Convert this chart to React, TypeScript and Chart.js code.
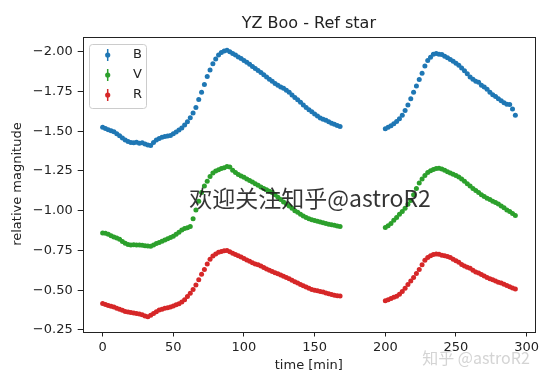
import React, { useEffect, useRef } from "react";
import { Chart, registerables } from "chart.js";

Chart.register(...registerables);

const TITLE = "YZ Boo - Ref star";
const X_LABEL = "time [min]";
const Y_LABEL = "relative magnitude";
const X_TICKS = [0, 50, 100, 150, 200, 250, 300];
const Y_TICKS = [-2.0, -1.75, -1.5, -1.25, -1.0, -0.75, -0.5, -0.25];
const SERIES_NAMES = ["B", "V", "R"];
const COLORS = ["#1f77b4", "#2ca02c", "#d62728"];
const WATERMARK_MAIN = "欢迎关注知乎@astroR2";
const WATERMARK_CORNER = "知乎 @astroR2";

const TIME = [
  0, 2, 4, 6, 8, 10, 12, 14, 16, 18, 20, 22, 24, 26, 28, 30, 32, 34, 36, 38,
  40, 42, 44, 46, 48, 50, 52, 54, 56, 58, 60, 62, 64, 66, 68, 70, 72, 74, 76, 78,
  80, 82, 84, 86, 88, 90, 92, 94, 96, 98, 100, 102, 104, 106, 108, 110, 112, 114, 116, 118,
  120, 122, 124, 126, 128, 130, 132, 134, 136, 138, 140, 142, 144, 146, 148, 150, 152, 154, 156, 158,
  160, 162, 164, 166, 168,
  200, 202, 204, 206, 208, 210, 212, 214, 216, 218, 220, 222, 224, 226, 228, 230, 232, 234, 236, 238,
  240, 242, 244, 246, 248, 250, 252, 254, 256, 258, 260, 262, 264, 266, 268, 270, 272, 274, 276, 278,
  280, 282, 284, 286, 288, 290, 292,
];

const B_MAG = [
  -1.525, -1.517, -1.51, -1.503, -1.497, -1.485, -1.472, -1.458, -1.445, -1.436, -1.43, -1.428, -1.431, -1.425, -1.427, -1.42, -1.414, -1.41, -1.43, -1.445,
  -1.455, -1.462, -1.467, -1.47, -1.474, -1.485, -1.495, -1.508, -1.52, -1.54, -1.56, -1.585, -1.615, -1.65, -1.7, -1.745, -1.795, -1.845, -1.885, -1.925,
  -1.955, -1.98, -1.995, -2.005, -2.01, -2.0, -1.99, -1.98, -1.968, -1.958, -1.946, -1.934, -1.922, -1.908, -1.895, -1.882, -1.87, -1.856, -1.842, -1.828,
  -1.814, -1.8, -1.79, -1.778, -1.77, -1.758, -1.745, -1.728, -1.712, -1.698, -1.682, -1.666, -1.65, -1.636, -1.622, -1.608, -1.596, -1.584, -1.575, -1.57,
  -1.56, -1.55, -1.544, -1.536, -1.53,
  -1.515, -1.525, -1.535, -1.548, -1.562, -1.578, -1.6, -1.63, -1.665, -1.705, -1.745, -1.785, -1.825, -1.865, -1.91, -1.945, -1.965, -1.985, -1.99, -1.985,
  -1.983, -1.972, -1.962, -1.952, -1.94, -1.928, -1.915, -1.898, -1.88, -1.862, -1.842, -1.828, -1.815, -1.808, -1.79, -1.778, -1.765, -1.745, -1.73, -1.718,
  -1.705, -1.692, -1.68, -1.67, -1.668, -1.64, -1.6,
];

const V_MAG = [
  -0.86, -0.858, -0.852, -0.842, -0.835, -0.828, -0.82, -0.806, -0.795, -0.788, -0.785, -0.786, -0.784, -0.784, -0.782, -0.78, -0.778, -0.776, -0.785, -0.793,
  -0.8, -0.808, -0.815, -0.823, -0.832, -0.84, -0.852, -0.865, -0.878, -0.888, -0.893, -0.9, -0.95, -1.005, -1.06, -1.115, -1.155, -1.185, -1.215, -1.238,
  -1.25, -1.258, -1.265, -1.27, -1.278, -1.275, -1.255, -1.24, -1.228, -1.218, -1.21, -1.2, -1.19, -1.18, -1.17, -1.16, -1.15, -1.14, -1.132, -1.122,
  -1.115, -1.1, -1.085, -1.07, -1.055, -1.042, -1.03, -1.015, -1.0, -0.99, -0.978, -0.967, -0.958, -0.95, -0.943, -0.938, -0.933, -0.929, -0.925, -0.92,
  -0.915, -0.912, -0.908, -0.904, -0.9,
  -0.895, -0.905, -0.92, -0.94, -0.958, -0.978, -0.995, -1.015, -1.04, -1.065, -1.1, -1.14, -1.175, -1.2, -1.222, -1.24, -1.252, -1.26, -1.265, -1.268,
  -1.262, -1.255, -1.245, -1.238, -1.23, -1.222, -1.212, -1.2, -1.185, -1.17, -1.155, -1.14, -1.128, -1.115, -1.1, -1.09, -1.078, -1.07, -1.06, -1.052,
  -1.042, -1.03, -1.018, -1.005, -0.995, -0.983, -0.97,
];

const R_MAG = [
  -0.416, -0.41, -0.404, -0.399, -0.394, -0.387, -0.38, -0.373, -0.366, -0.362, -0.36, -0.356, -0.353, -0.35, -0.345, -0.338, -0.333, -0.342, -0.354, -0.365,
  -0.375, -0.38, -0.386, -0.39, -0.394, -0.4, -0.408, -0.415, -0.425, -0.44, -0.46, -0.48, -0.505, -0.532, -0.565, -0.6, -0.63, -0.665, -0.695, -0.715,
  -0.728, -0.738, -0.744, -0.748, -0.749, -0.742, -0.733, -0.724, -0.716, -0.708, -0.7, -0.69, -0.682, -0.672, -0.665, -0.66, -0.652, -0.642, -0.634, -0.625,
  -0.618, -0.61, -0.603, -0.596, -0.588, -0.58, -0.572, -0.563, -0.553, -0.545, -0.536, -0.528, -0.52, -0.512, -0.505, -0.5, -0.497, -0.492, -0.488, -0.482,
  -0.478, -0.473, -0.468, -0.465, -0.463,
  -0.433, -0.44, -0.448, -0.455, -0.462, -0.475, -0.492, -0.512, -0.535, -0.558, -0.58, -0.605, -0.63, -0.66, -0.688, -0.705, -0.716, -0.724, -0.728, -0.726,
  -0.72, -0.716, -0.712, -0.705, -0.695, -0.685, -0.675, -0.662, -0.652, -0.645, -0.638, -0.625, -0.615, -0.608, -0.598, -0.59, -0.58, -0.572, -0.566, -0.558,
  -0.55, -0.545, -0.538, -0.53, -0.522, -0.514, -0.508,
];

const SERIES = [B_MAG, V_MAG, R_MAG];
const FONT = "'DejaVu Sans', sans-serif";

const decorPlugin = {
  id: "decor",
  afterDraw(chart: any) {
    const ctx = chart.ctx as CanvasRenderingContext2D;
    const a = chart.chartArea;
    ctx.save();
    ctx.strokeStyle = "#222";
    ctx.lineWidth = 1;
    const l = Math.round(a.left) + 0.5;
    const t = Math.round(a.top) + 0.5;
    const r = Math.round(a.right) + 0.5;
    const b = Math.round(a.bottom) + 0.5;
    ctx.strokeRect(l, t, r - l, b - t);

    ctx.fillStyle = "#222";
    ctx.font = `16px ${FONT}`;
    ctx.textAlign = "center";
    ctx.textBaseline = "alphabetic";
    ctx.fillText(TITLE, (a.left + a.right) / 2, 28);

    const bx = 89.5, by = 44.5, bw = 57, bh = 64;
    ctx.beginPath();
    (ctx as any).roundRect(bx, by, bw, bh, 3);
    ctx.fillStyle = "rgba(255,255,255,0.8)";
    ctx.fill();
    ctx.strokeStyle = "#cccccc";
    ctx.lineWidth = 1;
    ctx.stroke();
    SERIES_NAMES.forEach((name, i) => {
      const y = 55 + 20 * i;
      const x = 107.7;
      ctx.strokeStyle = COLORS[i];
      ctx.lineWidth = 1.5;
      ctx.beginPath();
      ctx.moveTo(x, y - 6);
      ctx.lineTo(x, y + 6);
      ctx.stroke();
      ctx.fillStyle = COLORS[i];
      ctx.beginPath();
      ctx.arc(x, y, 2.6, 0, Math.PI * 2);
      ctx.fill();
      ctx.fillStyle = "#222";
      ctx.font = `13px ${FONT}`;
      ctx.textAlign = "left";
      ctx.textBaseline = "middle";
      ctx.fillText(name, 133, y);
    });

    ctx.font = `23px 'Noto Sans CJK SC', sans-serif`;
    ctx.textAlign = "center";
    ctx.textBaseline = "middle";
    ctx.fillStyle = "rgba(30,30,30,0.9)";
    ctx.fillText(WATERMARK_MAIN, 310, 198);

    ctx.font = `16px 'Noto Sans CJK SC', sans-serif`;
    ctx.fillStyle = "rgba(205,205,205,0.85)";
    ctx.fillText(WATERMARK_CORNER, 476, 358);
    ctx.restore();
  },
};

export default function App() {
  const ref = useRef<HTMLCanvasElement | null>(null);
  useEffect(() => {
    document.body.style.margin = "0";
    const canvas = ref.current;
    if (!canvas) return;
    const datasets = SERIES.map((vals, i) => ({
      label: SERIES_NAMES[i],
      data: TIME.map((t, k) => ({ x: t, y: vals[k] })),
      backgroundColor: COLORS[i],
      borderColor: COLORS[i],
      pointRadius: 2.5,
      pointBorderWidth: 0,
      pointHoverRadius: 2.5,
      showLine: false,
    }));
    const chart = new Chart(canvas, {
      type: "scatter",
      data: { datasets },
      options: {
        animation: false,
        responsive: false,
        devicePixelRatio: 1,
        layout: { padding: { top: 36.7, right: 12, left: 0, bottom: 0 } },
        plugins: {
          legend: { display: false },
          title: { display: false },
          tooltip: { enabled: false },
        },
        scales: {
          x: {
            type: "linear",
            min: -14.1,
            max: 305.9,
            afterFit: (s: any) => {
              s.height = 49.5;
            },
            afterBuildTicks: (s: any) => {
              s.ticks = X_TICKS.map((v) => ({ value: v }));
            },
            ticks: {
              color: "#222",
              font: { family: FONT, size: 13 },
              padding: 3,
              maxRotation: 0,
              callback: (v: any) => String(v),
            },
            grid: {
              display: true,
              drawOnChartArea: false,
              drawTicks: true,
              tickLength: 5,
              color: "#222",
            },
            border: { display: false },
            title: {
              display: true,
              text: X_LABEL,
              color: "#222",
              font: { family: FONT, size: 13 },
              padding: { top: 0, bottom: 8 },
            },
          },
          y: {
            type: "linear",
            reverse: true,
            min: -2.095,
            max: -0.24,
            afterFit: (s: any) => {
              s.width = 82.7;
            },
            afterBuildTicks: (s: any) => {
              s.ticks = Y_TICKS.map((v) => ({ value: v }));
            },
            ticks: {
              color: "#222",
              font: { family: FONT, size: 13 },
              padding: 5,
              callback: (v: any) => (v < 0 ? "\u2212" : "") + Math.abs(Number(v)).toFixed(2),
            },
            grid: {
              display: true,
              drawOnChartArea: false,
              drawTicks: true,
              tickLength: 5,
              color: "#222",
            },
            border: { display: false },
            title: {
              display: true,
              text: Y_LABEL,
              color: "#222",
              font: { family: FONT, size: 13 },
              padding: { top: 10, bottom: 0 },
            },
          },
        },
      },
      plugins: [decorPlugin],
    } as any);
    return () => chart.destroy();
  }, []);
  return (
    <canvas
      ref={ref}
      width={547}
      height={381}
      style={{ display: "block", width: 547, height: 381 }}
    />
  );
}
